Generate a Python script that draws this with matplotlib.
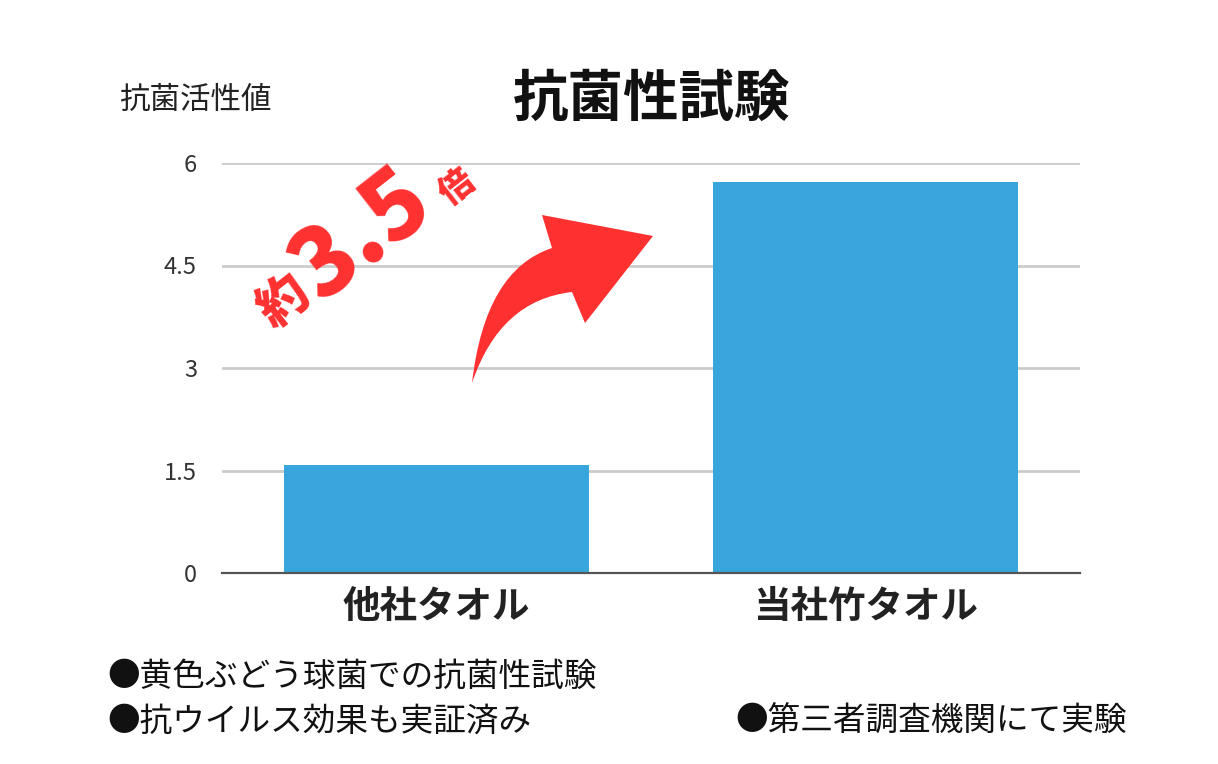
import matplotlib.pyplot as plt
from matplotlib.path import Path
from matplotlib.patches import PathPatch

plt.rcParams['font.family'] = ['Noto Sans CJK JP', 'DejaVu Sans']

# data
categories = ['他社タオル', '当社竹タオル']
values = [1.58, 5.72]
yticks = [0, 1.5, 3, 4.5, 6]
ytick_labels = ['0', '1.5', '3', '4.5', '6']
notes = ['●黄色ぶどう球菌での抗菌性試験', '●抗ウイルス効果も実証済み', '●第三者調査機関にて実験']

W, H = 1218, 764
fig = plt.figure(figsize=(W / 100, H / 100), dpi=100)
fig.patch.set_facecolor('white')

ax = fig.add_axes([222 / W, 1 - 573 / H, (1080 - 222) / W, (573 - 163) / H])
ax.bar(range(len(categories)), values, width=0.71, color='#38a6dc', zorder=3)
ax.set_xlim(-0.5, 1.5)
ax.set_ylim(0, 6)
ax.set_yticks(yticks)
ax.set_yticklabels(ytick_labels, fontsize=17, color='#333333')
ax.set_xticks(range(len(categories)))
ax.set_xticklabels(categories, fontsize=27, fontweight='bold', color='#222222')
ax.tick_params(axis='y', length=0, pad=18)
ax.tick_params(axis='x', length=0, pad=10)
ax.grid(axis='y', color='#cccccc', linewidth=2, zorder=0)
for s in ['top', 'right', 'left']:
    ax.spines[s].set_visible(False)
ax.spines['bottom'].set_color('#555555')
ax.spines['bottom'].set_linewidth(1.6)
ax.spines['bottom'].set_zorder(4)

# overlay in pixel coordinates for decorations
ov = fig.add_axes([0, 0, 1, 1], facecolor='none')
ov.set_xlim(0, W)
ov.set_ylim(H, 0)
ov.axis('off')

ov.text(652, 100, '抗菌性試験', fontsize=40, fontweight='bold', ha='center', va='center', color='#111111')
ov.text(195, 100, '抗菌活性値', fontsize=22, ha='center', va='center', color='#222222')

# curved arrow
verts = [(472, 383), (485, 270), (552, 248), (542, 215), (653, 236),
         (585, 323), (572, 292), (500, 300), (472, 383), (472, 383)]
codes = [Path.MOVETO, Path.CURVE3, Path.CURVE3, Path.LINETO, Path.LINETO,
         Path.LINETO, Path.LINETO, Path.CURVE3, Path.CURVE3, Path.CLOSEPOLY]
ov.add_patch(PathPatch(Path(verts, codes), facecolor='#ff3030', edgecolor='none'))

red = '#ff3030'
ov.text(284, 302, '約', fontsize=36, fontweight='heavy', color=red, rotation=38, ha='center', va='center')
ov.text(362, 236, '3.5', fontsize=68, fontweight='heavy', color=red, rotation=38, ha='center', va='center')
ov.text(457, 188, '倍', fontsize=25, fontweight='heavy', color=red, rotation=38, ha='center', va='center')

ov.text(107, 677, notes[0], fontsize=23.5, ha='left', va='center', color='#111111')
ov.text(107, 722, notes[1], fontsize=23.5, ha='left', va='center', color='#111111')
ov.text(735, 722, notes[2], fontsize=23.5, ha='left', va='center', color='#111111')

fig.savefig('out.png', dpi=100)
